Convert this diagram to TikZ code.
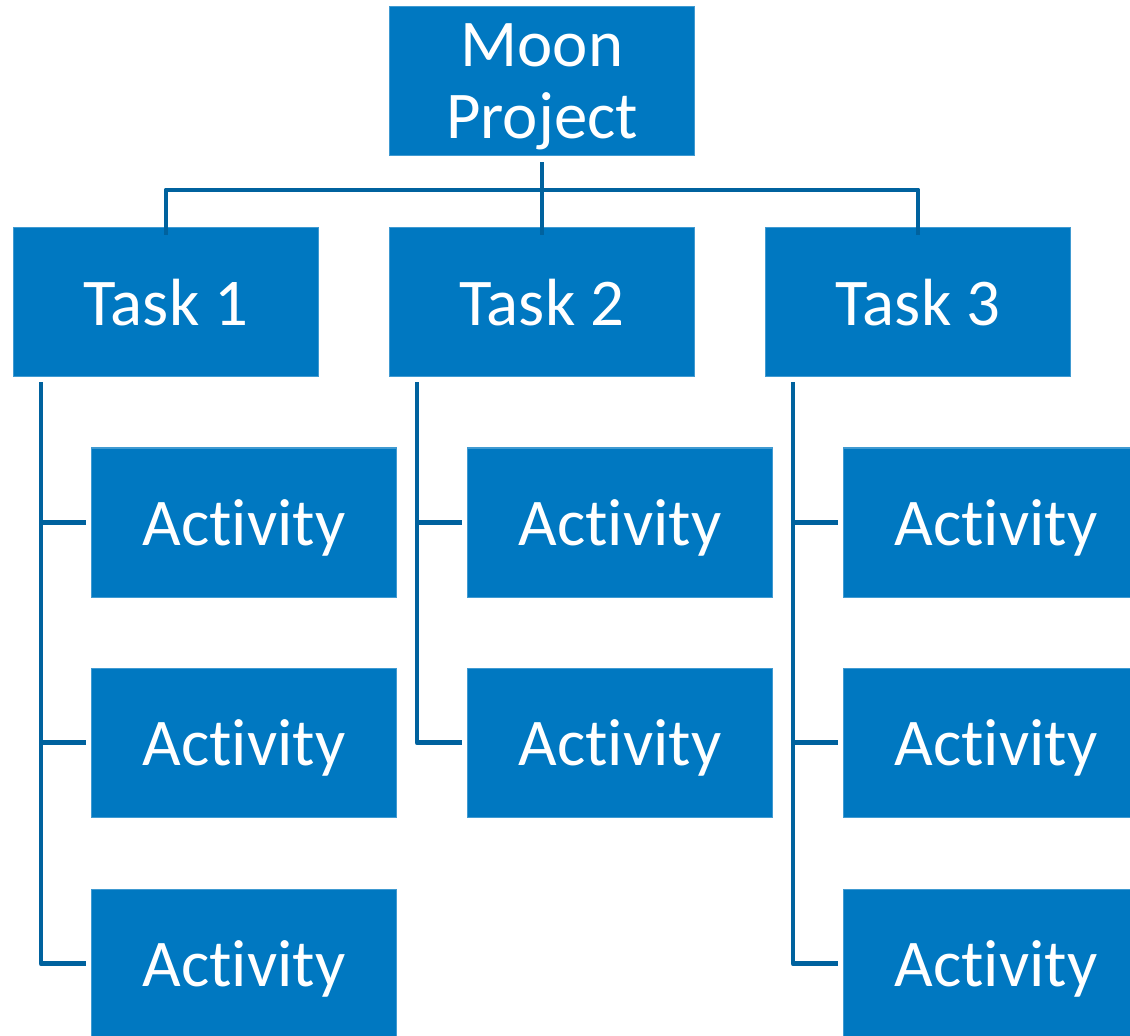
\documentclass[tikz,border=0pt]{standalone}
\usepackage{fontspec}
\setmainfont{Carlito}[Ligatures=NoCommon]
\usepackage{tikz}
\usetikzlibrary{positioning}
\usepackage{xcolor}
\definecolor{boxblue}{HTML}{0078C1}
\definecolor{lineblue}{HTML}{00629E}

\tikzset{
  wbox/.style={rectangle, fill=boxblue, draw=boxblue!75!white, line width=0.3pt,
    minimum width=3.05cm, minimum height=1.49cm, inner sep=0pt, text=white,
    text depth=0pt, align=center, font=\fontsize{19}{20.5}\selectfont},
  link/.style={draw=lineblue, line width=1.4pt, line join=round}
}

\begin{document}
\begin{tikzpicture}
                \useasboundingbox (0,0) rectangle (11.30,-10.35);
                \clip (0,0) rectangle (11.30,-10.35);
                % top and tasks
                \node[wbox](moon) at (5.42,-0.81){Moon\\Project};
                \node[wbox](t1) at (1.66,-3.02){Task 1};
                \node[wbox](t2) at (5.42,-3.02){Task 2};
                \node[wbox](t3) at (9.18,-3.02){Task 3};
                % activities
                \node[wbox](a11) at (2.44,-5.225){Activity};
                \node[wbox](a12) at (2.44,-7.425){Activity};
                \node[wbox](a13) at (2.44,-9.635){Activity};
                \node[wbox](a21) at (6.20,-5.225){Activity};
                \node[wbox](a22) at (6.20,-7.425){Activity};
                \node[wbox](a31) at (9.96,-5.225){Activity};
                \node[wbox](a32) at (9.96,-7.425){Activity};
                \node[wbox](a33) at (9.96,-9.635){Activity};
                % top connector
                \path[link] ([yshift=-0.06cm]moon.south) -- ([yshift=-0.08cm]t2.north);
                \path[link] ([yshift=-0.08cm]t1.north) |- ([yshift=0.37cm]t2.north) -| ([yshift=-0.08cm]t3.north);
                % task 1
                \path[link] ([xshift=0.28cm,yshift=-0.05cm]t1.south west) |- ([xshift=-0.05cm]a13.west);
                \path[link] ([xshift=-0.50cm]a11.west) -- ([xshift=-0.05cm]a11.west);
                \path[link] ([xshift=-0.50cm]a12.west) -- ([xshift=-0.05cm]a12.west);
                % task 2
                \path[link] ([xshift=0.28cm,yshift=-0.05cm]t2.south west) |- ([xshift=-0.05cm]a22.west);
                \path[link] ([xshift=-0.50cm]a21.west) -- ([xshift=-0.05cm]a21.west);
                % task 3
                \path[link] ([xshift=0.28cm,yshift=-0.05cm]t3.south west) |- ([xshift=-0.05cm]a33.west);
                \path[link] ([xshift=-0.50cm]a31.west) -- ([xshift=-0.05cm]a31.west);
                \path[link] ([xshift=-0.50cm]a32.west) -- ([xshift=-0.05cm]a32.west);
\end{tikzpicture}
\end{document}
